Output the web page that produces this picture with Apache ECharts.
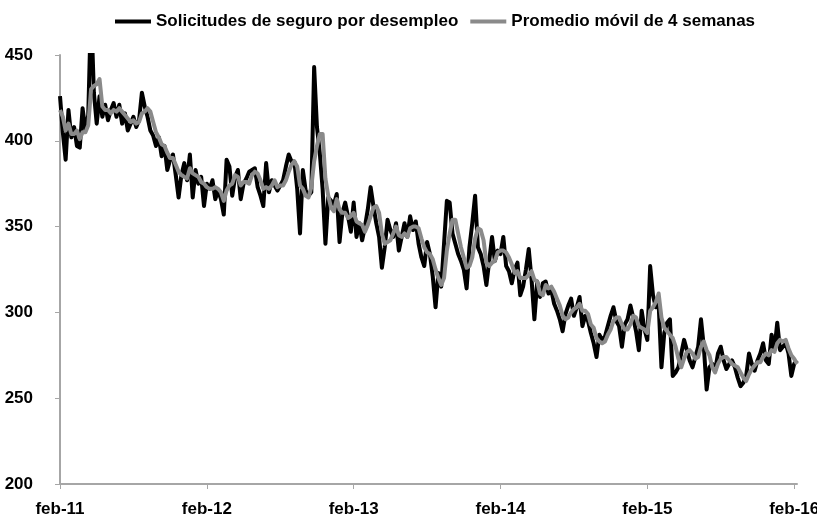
<!DOCTYPE html>
<html>
<head>
<meta charset="utf-8">
<script src="https://cdn.jsdelivr.net/npm/echarts@6/dist/echarts.min.js"></script>
<style>
  html, body { margin: 0; padding: 0; background: #fff; }
  #main { width: 817px; height: 521px; }
</style>
</head>
<body>
<div id="main"></div>
<script>
// series names
const seriesNames = ['Solicitudes de seguro por desempleo', 'Promedio móvil de 4 semanas']
// x tick positions (weeks since feb-11) and their labels
const tickWeeks = [0, 52, 104, 156, 208, 260]
const tickLabels = ['feb-11', 'feb-12', 'feb-13', 'feb-14', 'feb-15', 'feb-16']

// weekly claims (thousands), one value per week from feb-11
const claims = [
  426, 405, 389, 418, 402, 408, 397, 396, 419, 406,
  415, 478, 428, 410, 426, 414, 421, 412, 418, 422,
  414, 421, 410, 416, 406, 410, 414, 408, 412, 428,
  420, 414, 406, 403, 397, 402, 391, 397, 383, 389,
  392, 380, 367, 380, 387, 377, 392, 367, 383, 375,
  379, 362, 375, 372, 377, 366, 371, 366, 357, 389,
  385, 368, 379, 383, 366, 375, 378, 382, 383, 384,
  373, 368, 362, 387, 370, 377, 374, 371, 374, 377,
  385, 392, 388, 388, 372, 346, 383, 371, 368, 370,
  443, 408, 393, 372, 340, 367, 365, 363, 369, 341,
  358, 364, 356, 347, 364, 344, 352, 342, 350, 360,
  373, 362, 352, 344, 326, 338, 354, 348, 344, 352,
  336, 344, 352, 344, 356, 348, 353, 340, 332, 327,
  341, 334, 321, 303, 323, 315, 340, 365, 364, 346,
  340, 334, 330, 325, 314, 338, 352, 368, 338, 334,
  327, 316, 330, 344, 330, 336, 334, 344, 327, 324,
  317, 325, 329, 310, 315, 325, 337, 319, 296, 318,
  309, 317, 318, 311, 313, 305, 301, 296, 289, 299,
  304, 308, 298, 303, 309, 292, 298, 295, 288, 282,
  274, 287, 284, 286, 292, 298, 303, 295, 292, 280,
  293, 296, 304, 297, 289, 278, 301, 290, 284, 327,
  310, 303, 305, 268, 288, 294, 296, 263, 265, 268,
  276, 284, 278, 272, 268, 274, 280, 296, 280, 255,
  268, 270, 266, 276, 280, 272, 267, 270, 272, 268,
  262, 257, 259, 263, 276, 270, 266, 272, 276, 282,
  272, 270, 287, 278, 294, 278, 280, 282, 276, 263,
  270, 272
]

// 4-week moving average
const movingAvg = [
  418, 414, 406, 410, 404, 404, 406, 401, 405, 405,
  409, 430, 432, 433, 436, 420, 418, 418, 416, 418,
  417, 419, 417, 415, 413, 411, 412, 410, 411, 416,
  417, 419, 417, 411, 405, 402, 398, 397, 393, 390,
  390, 386, 382, 380, 379, 378, 384, 381, 380, 379,
  376, 375, 373, 372, 372, 373, 372, 370, 365, 371,
  374, 375, 380, 379, 374, 376, 376, 375, 380, 382,
  381, 377, 372, 373, 372, 374, 377, 373, 374, 374,
  377, 382, 386, 388, 385, 374, 372, 368, 367, 373,
  388, 397, 404, 404, 378, 368, 361, 359, 366, 360,
  358, 358, 355, 356, 358, 353, 352, 351, 347, 351,
  356, 361, 362, 358, 346, 340, 341, 342, 346, 350,
  345, 344, 346, 344, 349, 350, 350, 349, 343, 338,
  335, 334, 331, 325, 320, 316, 320, 336, 346, 354,
  354, 346, 338, 332, 326, 327, 332, 343, 349, 348,
  342, 329, 327, 329, 330, 335, 336, 336, 335, 332,
  328, 323, 324, 320, 320, 320, 322, 324, 319, 318,
  311, 310, 316, 314, 315, 312, 308, 304, 298, 296,
  297, 300, 302, 303, 305, 301, 301, 299, 293, 291,
  285, 283, 282, 283, 287, 290, 295, 297, 297, 293,
  290, 290, 293, 298, 297, 292, 291, 290, 288, 301,
  303, 306, 311, 297, 291, 289, 287, 285, 280, 273,
  268, 273, 277, 278, 276, 273, 274, 280, 283, 278,
  275, 268, 265, 270, 273, 274, 274, 272, 270, 269,
  268, 265, 262, 260, 264, 267, 269, 271, 271, 274,
  276, 275, 278, 277, 282, 284, 283, 284, 279, 275,
  273, 270
]

const font = "'Liberation Sans Narrow', 'Arial Narrow', 'Liberation Sans', sans-serif"

const main = document.getElementById('main')
const myChart = echarts.init(main, null, { renderer: 'canvas' })

const option = {
  animation: false,
  backgroundColor: '#fff',
  legend: {
    left: 110,
    top: 8,
    icon: 'rect',
    itemWidth: 36,
    itemHeight: 4,
    itemGap: 12,
    data: seriesNames,
    textStyle: { fontFamily: font, fontWeight: 'bold', fontSize: 17, color: '#000' }
  },
  grid: {
    left: 60,
    right: 20,
    top: 55,
    bottom: 37,
    containLabel: false,
    outerBoundsMode: 'none'
  },
  xAxis: {
    type: 'value',
    min: 0,
    max: 261,
    interval: 52,
    splitLine: { show: false },
    axisLine: { lineStyle: { color: '#a6a6a6', width: 2 } },
    axisTick: { show: true, length: 5, customValues: tickWeeks, lineStyle: { color: '#a6a6a6', width: 1 } },
    axisLabel: {
      customValues: tickWeeks,
      margin: 17,
      fontFamily: font,
      fontWeight: 'bold',
      fontSize: 17,
      color: '#000',
      formatter: (v) => {
        const i = tickWeeks.indexOf(v)
        return i >= 0 ? tickLabels[i] : ''
      }
    }
  },
  yAxis: {
    type: 'value',
    min: 200,
    max: 450,
    interval: 50,
    splitLine: { show: false },
    axisLine: { show: true, lineStyle: { color: '#a6a6a6', width: 2 } },
    axisTick: { show: true, length: 5, lineStyle: { color: '#a6a6a6', width: 1 } },
    axisLabel: {
      margin: 27,
      fontFamily: font,
      fontWeight: 'bold',
      fontSize: 17,
      color: '#000'
    }
  },
  series: [
    {
      name: seriesNames[0],
      type: 'line',
      data: claims.map((v, i) => [i, v]),
      showSymbol: false,
      clip: true,
      color: '#000',
      lineStyle: { color: '#000', width: 4, join: 'round' }
    },
    {
      name: seriesNames[1],
      type: 'line',
      data: movingAvg.map((v, i) => [i, v]),
      showSymbol: false,
      clip: true,
      color: '#8a8a8a',
      lineStyle: { color: '#8a8a8a', width: 4, join: 'round' }
    }
  ]
}

myChart.setOption(option)
window.onresize = () => {
  myChart.resize()
}
</script>
</body>
</html>
